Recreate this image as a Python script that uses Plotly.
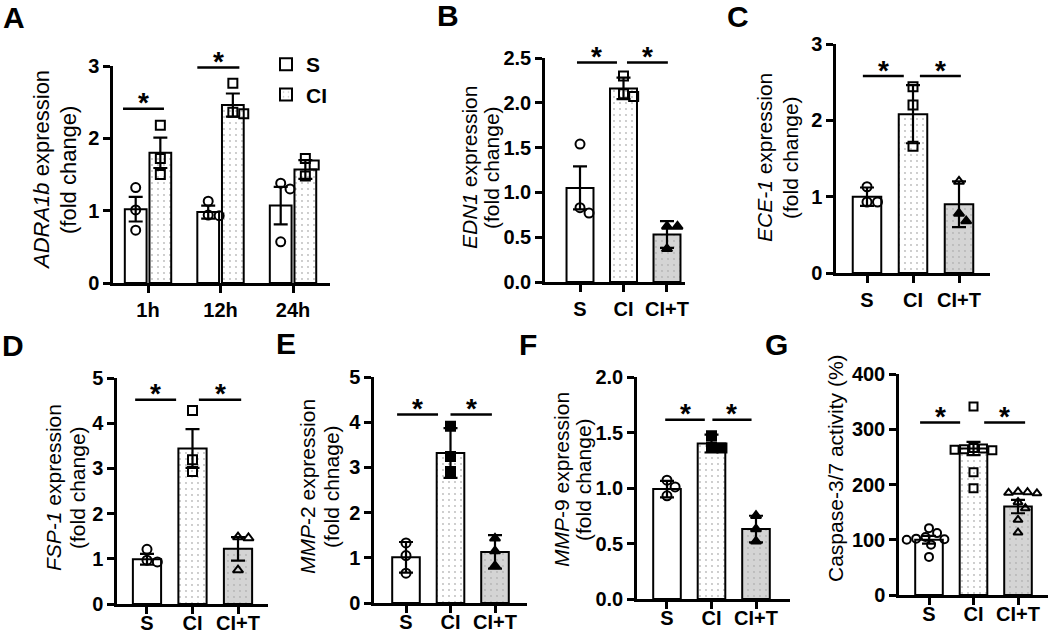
import numpy as np
import plotly.graph_objects as go

W, H = 1050, 637
FONT = "Liberation Sans, Arial, sans-serif"

# ---------------- data ----------------
groups3 = ["S", "CI", "CI+T"]
timepoints = ["1h", "12h", "24h"]

# Panel A (ADRA1b, S vs CI at 3 time points)
A_S_mean = [1.02, 0.98, 1.07]
A_S_err = [0.17, 0.09, 0.26]
A_CI_mean = [1.80, 2.46, 1.57]
A_CI_err = [0.21, 0.16, 0.13]
A_S_pts = [[1.32, 1.01, 0.73], [1.13, 0.94, 0.93], [1.38, 1.30, 0.57]]
A_CI_pts = [[2.18, 1.72, 1.50], [2.76, 2.36, 2.34], [1.72, 1.63, 1.48]]

# Panel B (EDN1)
B_mean = [1.05, 2.16, 0.53]
B_err = [0.24, 0.12, 0.15]
B_pts = [[1.54, 0.77, 0.83], [2.30, 2.07, 2.10], [0.62, 0.62, 0.37]]

# Panel C (ECE-1)
C_mean = [1.00, 2.08, 0.90]
C_err = [0.12, 0.38, 0.30]
C_pts = [[1.13, 0.93, 0.93], [2.44, 2.20, 1.66], [1.20, 0.78, 0.68]]

# Panel D (FSP-1)
D_mean = [0.99, 3.44, 1.22]
D_err = [0.12, 0.43, 0.26]
D_pts = [[1.21, 0.97, 0.93], [4.28, 3.19, 2.93], [1.48, 1.46, 0.75]]

# Panel E (MMP-2)
E_mean = [1.01, 3.32, 1.13]
E_err = [0.34, 0.55, 0.37]
E_pts = [[1.33, 1.05, 0.66], [3.91, 3.24, 2.91], [1.43, 1.15, 0.82]]

# Panel F (MMP-9)
F_mean = [0.99, 1.40, 0.63]
F_err = [0.075, 0.08, 0.12]
F_pts = [[1.07, 1.01, 0.93], [1.47, 1.37, 1.36], [0.75, 0.63, 0.52]]

# Panel G (Caspase-3/7 activity)
G_mean = [100, 265, 160]
G_err = [7, 12, 12]
G_pts = [[121, 112, 105, 102, 101, 100, 91, 69],
         [341, 266, 265, 264, 263, 262, 222, 193],
         [187, 186, 185, 184, 168, 157, 136, 113]]

# ---------------- styles ----------------
SYM = {"S": "circle", "CI": "square", "CI+T": "triangle-up"}
BAR_STYLE = {
    "S": dict(color="white", pattern=None),
    "CI": dict(color="white", pattern=dict(shape=".", bgcolor="white", fgcolor="#707070", size=6, solidity=0.07)),
    "CI+T": dict(color="#d4d4d4", pattern=dict(shape=".", bgcolor="#d4d4d4", fgcolor="#909090", size=6,
                                              solidity=0.07)),
}


def xdom(x0, x1):
    return [x0 / W, x1 / W]


def ydom(ybot, ytop):
    return [1 - ybot / H, 1 - ytop / H]


def beeswarm(vals, ypu, xpu, d):
    """Place points (in px) so that markers do not overlap; return x offsets in data units."""
    vals = np.asarray(vals, float)
    order = np.argsort(-vals, kind="stable")
    placed = []
    offs = np.zeros(len(vals))
    for idx in order:
        y = vals[idx] * ypu
        forb = []
        for (px, py) in placed:
            dy = abs(py - y)
            if dy < d:
                dx = np.sqrt(d * d - dy * dy)
                forb.append((px - dx, px + dx))
        cands = [0.0] + [a for a, b in forb] + [b for a, b in forb]
        cands = sorted(cands, key=lambda c: (abs(c), -c))
        x = 0.0
        for c in cands:
            if all(not (a + 1e-6 < c < b - 1e-6) for a, b in forb):
                x = c
                break
        placed.append((x, y))
        offs[idx] = x / xpu
    return offs


panels = [
    dict(key="A", xpx=(113, 330), ypx=(283, 66), xr=[-0.483, 2.51], yr=[0, 3], yt=[0, 1, 2, 3], fmt="{:.0f}",
         cats=timepoints, title=["<i>ADRA1b</i> expression", "(fold change)"], tx=(42, 69), ty=170, tfs=22,
         lpos=(14, 18), sig=[(-0.345, 0.22, 2.41), (0.68, 1.26, 2.98)], row=1),
    dict(key="B", xpx=(545, 685), ypx=(282, 58), xr=[-0.805, 2.414], yr=[0, 2.5], yt=[0, 0.5, 1, 1.5, 2, 2.5],
         fmt="{:.1f}", cats=groups3, title=["<i>EDN1</i> expression", "(fold change)"], tx=(470, 492), ty=168,
         tfs=21, lpos=(448, 15), sig=[(-0.07, 0.85, 2.45), (1.08, 2.02, 2.45)], row=1,
         mean=B_mean, err=B_err, pts=B_pts, filled=[[0, 0, 0], [0, 0, 0], [1, 1, 1]]),
    dict(key="C", xpx=(836, 990), ypx=(273, 44), xr=[-0.674, 2.674], yr=[0, 3], yt=[0, 1, 2, 3], fmt="{:.0f}",
         cats=groups3, title=["<i>ECE-1</i> expression", "(fold change)"], tx=(765, 791), ty=158, tfs=21,
         lpos=(738, 16), sig=[(-0.09, 0.80, 2.58), (1.15, 2.04, 2.58)], row=1,
         mean=C_mean, err=C_err, pts=C_pts, filled=[[0, 0, 0], [0, 0, 0], [0, 1, 1]]),
    dict(key="D", xpx=(117, 268), ypx=(604, 378), xr=[-0.659, 2.659], yr=[0, 5], yt=[0, 1, 2, 3, 4, 5],
         fmt="{:.0f}", cats=groups3, title=["<i>FSP-1</i> expression", "(fold change)"], tx=(53, 77), ty=488,
         tfs=21, lpos=(13, 345), sig=[(-0.26, 0.64, 4.52), (1.14, 2.07, 4.52)], row=2,
         mean=D_mean, err=D_err, pts=D_pts, filled=[[0, 0, 0], [0, 0, 0], [0, 0, 0]]),
    dict(key="E", xpx=(374, 527), ypx=(603, 377), xr=[-0.719, 2.719], yr=[0, 5], yt=[0, 1, 2, 3, 4, 5],
         fmt="{:.0f}", cats=groups3, title=["<i>MMP</i>-2 expression", "(fold chnage)"], tx=(307, 331),
         ty=487, tfs=21, lpos=(286, 343), sig=[(-0.2, 0.72, 4.17), (1.0, 1.93, 4.17)], row=2,
         mean=E_mean, err=E_err, pts=E_pts, filled=[[0, 0, 0], [1, 1, 1], [1, 1, 1]]),
    dict(key="F", xpx=(637, 790), ypx=(599, 377), xr=[-0.674, 2.764], yr=[0, 2], yt=[0, 0.5, 1, 1.5, 2],
         fmt="{:.1f}", cats=groups3, title=["<i>MMP</i>-9 expression", "(fold change)"], tx=(561, 583),
         ty=480, tfs=21, lpos=(528, 344), sig=[(-0.04, 0.85, 1.615), (1.02, 1.9, 1.615)], row=2,
         mean=F_mean, err=F_err, pts=F_pts, filled=[[0, 0, 0], [1, 1, 1], [1, 1, 1]]),
    dict(key="G", xpx=(899, 1048), ypx=(595, 374), xr=[-0.674, 2.674], yr=[0, 400], yt=[0, 100, 200, 300, 400],
         fmt="{:.0f}", cats=groups3, title=["Caspase-3/7 activity (%)"], tx=(835,), ty=468, tfs=21,
         lpos=(776, 344), sig=[(-0.2, 0.70, 312), (1.24, 2.16, 312)], row=2,
         mean=G_mean, err=G_err, pts=G_pts, filled=[[0] * 8, [0] * 8, [0] * 8]),
]

fig = go.Figure()
layout = dict(
    width=W, height=H, margin=dict(l=0, r=0, t=0, b=0, autoexpand=False),
    plot_bgcolor="white", paper_bgcolor="white",
    font=dict(family=FONT, color="black"),
    barmode="overlay", showlegend=True,
    legend=dict(x=266 / W, y=1 - 44 / H, xanchor="left", yanchor="top", bgcolor="rgba(0,0,0,0)",
                font=dict(family=FONT, size=21, weight="bold", color="black"), tracegroupgap=0,
                itemwidth=30),
)
shapes = []
annotations = []

ERR = dict(type="data", color="black", thickness=2.2, width=7, visible=True)


def marker_for(group, filled_flags, size):
    symbols = [SYM[group] if f else SYM[group] + "-open" for f in filled_flags]
    return dict(symbol=symbols, size=size, color="black", line=dict(color="black", width=2))


for i, p in enumerate(panels):
    n = "" if i == 0 else str(i + 1)
    xa, ya = "x" + n, "y" + n
    layout["xaxis" + n] = dict(
        domain=xdom(*p["xpx"]), range=p["xr"], anchor=ya, showline=True, linewidth=2.5, linecolor="black",
        ticks="outside", ticklen=7, tickwidth=2.5, tickcolor="black", tickvals=[0, 1, 2], ticktext=p["cats"],
        tickfont=dict(family=FONT, size=20, weight="bold", color="black"), showgrid=False, zeroline=False,
        fixedrange=True, automargin=False, ticklabelstandoff=(0 if p["row"] == 1 else -8))
    layout["yaxis" + n] = dict(
        domain=ydom(*p["ypx"]), range=p["yr"], anchor=xa, showline=True, linewidth=2.5, linecolor="black",
        ticks="outside", ticklen=7, tickwidth=2.5, tickcolor="black", tickvals=p["yt"],
        ticktext=[p["fmt"].format(v) for v in p["yt"]],
        tickfont=dict(family=FONT, size=20, weight="bold", color="black"), showgrid=False, zeroline=False,
        fixedrange=True, automargin=False)

    xpu = (p["xpx"][1] - p["xpx"][0]) / (p["xr"][1] - p["xr"][0])
    ypu = (p["ypx"][0] - p["ypx"][1]) / (p["yr"][1] - p["yr"][0])

    if p["key"] == "A":
        pos = np.arange(len(timepoints))
        for grp, mean, err, off in [("S", A_S_mean, A_S_err, -0.17), ("CI", A_CI_mean, A_CI_err, 0.17)]:
            st = BAR_STYLE[grp]
            fig.add_trace(go.Bar(
                x=pos + off, y=mean, width=0.30, name=grp, xaxis=xa, yaxis=ya, showlegend=True,
                marker=dict(color=st["color"], pattern=st["pattern"], line=dict(color="black", width=2)),
                error_y=dict(array=err, **ERR)))
        for grp, pts, off in [("S", A_S_pts, -0.17), ("CI", A_CI_pts, 0.17)]:
            xs, ys = [], []
            for t, vals in enumerate(pts):
                o = beeswarm(vals, ypu, xpu, 11)
                xs += list(pos[t] + off + o)
                ys += list(vals)
            fig.add_trace(go.Scatter(x=xs, y=ys, mode="markers", xaxis=xa, yaxis=ya, showlegend=False,
                                     marker=marker_for(grp, [0] * len(xs), 9), hoverinfo="skip"))
    else:
        for g, grp in enumerate(groups3):
            st = BAR_STYLE[grp]
            fig.add_trace(go.Bar(
                x=[g], y=[p["mean"][g]], width=0.62, name=grp, xaxis=xa, yaxis=ya, showlegend=False,
                marker=dict(color=st["color"], pattern=st["pattern"], line=dict(color="black", width=2)),
                error_y=dict(array=[p["err"][g]], **ERR)))
        msize = 8 if p["key"] == "G" else 9
        for g, grp in enumerate(groups3):
            vals = p["pts"][g]
            o = beeswarm(vals, ypu, xpu, msize + 1.5)
            fig.add_trace(go.Scatter(x=list(g + o), y=vals, mode="markers", xaxis=xa, yaxis=ya,
                                     showlegend=False, marker=marker_for(grp, p["filled"][g], msize),
                                     hoverinfo="skip"))

    for (x0, x1, yv) in p["sig"]:
        shapes.append(dict(type="line", xref=xa, yref=ya, x0=x0, x1=x1, y0=yv, y1=yv,
                           line=dict(color="black", width=2.5), layer="above"))
        annotations.append(dict(x=(x0 + x1) / 2, y=yv, xref=xa, yref=ya, text="*", showarrow=False,
                                yanchor="middle", yshift=6,
                                font=dict(family=FONT, size=28, weight="bold", color="black")))

    for line_text, lx in zip(p["title"], p["tx"]):
        annotations.append(dict(x=lx / W, y=1 - p["ty"] / H, xref="paper", yref="paper",
                                text=line_text, textangle=-90, showarrow=False, xanchor="center",
                                yanchor="middle", font=dict(family=FONT, size=p["tfs"], color="black")))
    annotations.append(dict(x=p["lpos"][0] / W, y=1 - p["lpos"][1] / H, xref="paper", yref="paper",
                            text=p["key"], showarrow=False, xanchor="center", yanchor="middle",
                            font=dict(family=FONT, size=30, weight="bold", color="black")))

layout["shapes"] = shapes
layout["annotations"] = annotations
fig.update_layout(**layout)
fig.write_html("out.html", config={"displayModeBar": False},
               post_script="document.body.style.margin='0px';document.body.style.overflow='hidden';")
